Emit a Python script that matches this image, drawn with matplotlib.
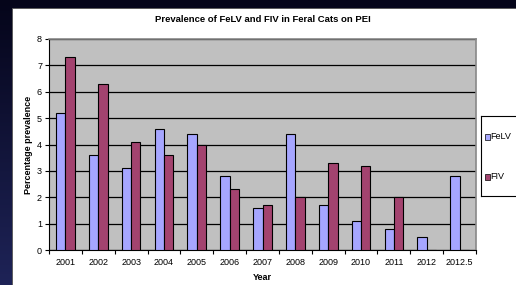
import numpy as np
import matplotlib.pyplot as plt
from matplotlib.patches import Rectangle

years = ['2001', '2002', '2003', '2004', '2005', '2006', '2007',
         '2008', '2009', '2010', '2011', '2012', '2012.5']
felv = [5.2, 3.6, 3.1, 4.6, 4.4, 2.8, 1.6, 4.4, 1.7, 1.1, 0.8, 0.5, 2.8]
fiv = [7.3, 6.3, 4.1, 3.6, 4.0, 2.3, 1.7, 2.0, 3.3, 3.2, 2.0, 0, 0]

plt.rcParams['font.family'] = ['Liberation Sans', 'DejaVu Sans']

W, H = 516, 285
fig = plt.figure(figsize=(W / 100, H / 100), dpi=100)

# dark slide background with gradient
bg = fig.add_axes([0, 0, 1, 1])
grad = np.linspace(0, 1, 100).reshape(-1, 1)
bg.imshow(grad, aspect='auto', extent=[0, 1, 0, 1], origin='upper',
          cmap=plt.matplotlib.colors.LinearSegmentedColormap.from_list(
              'bgc', ['#05051a', '#1e2357']))
bg.add_patch(Rectangle((12 / W, 0), 1 - 12 / W, 1 - 8 / H,
                       transform=bg.transAxes, facecolor='white',
                       edgecolor='#555555', lw=0.6))
bg.set_xlim(0, 1)
bg.set_ylim(0, 1)
bg.axis('off')

# plot area
left, right, top, bottom = 49, 476, 39, 250
ax = fig.add_axes([left / W, 1 - bottom / H, (right - left) / W, (bottom - top) / H])
ax.set_facecolor('#c0c0c0')

x = np.arange(len(years))
bw = 0.57 / 2
ax.bar(x - bw / 2, felv, bw, color='#a6a6ff', edgecolor='black', lw=0.8, zorder=3, label='FeLV')
ax.bar(x + bw / 2, fiv, bw, color='#a3436f', edgecolor='black', lw=0.8, zorder=3, label='FIV')

ax.set_xlim(-0.5, len(years) - 0.5)
ax.set_ylim(0, 8)
ax.set_yticks(range(9))
ax.yaxis.grid(True, color='black', lw=0.9, zorder=1)
ax.set_axisbelow(True)

ax.set_xticks(x)
ax.set_xticklabels(years, fontsize=6.5)
ax.set_xticks(np.arange(-0.5, len(years), 1), minor=True)
ax.tick_params(axis='x', which='major', length=0, pad=6)
ax.tick_params(axis='x', which='minor', length=3, width=0.8, direction='out')
ax.tick_params(axis='y', labelsize=6.5, length=3, width=0.8, pad=2)

for s in ['top', 'right']:
    ax.spines[s].set_color('#888888')
    ax.spines[s].set_linewidth(1.2)
ax.spines['left'].set_linewidth(0.8)
ax.spines['bottom'].set_linewidth(0.8)

ax.set_xlabel('Year', fontsize=6.5, fontweight='bold', labelpad=4)
ax.set_ylabel('Percentage prevalence', fontsize=6.5, fontweight='bold', labelpad=3)
ax.set_title('Prevalence of FeLV and FIV in Feral Cats on PEI', fontsize=6.8,
             fontweight='bold', pad=12)

# legend box
leg_ax = fig.add_axes([481 / W, 1 - 196 / H, 60 / W, 80 / H])
leg_ax.set_xlim(0, 1)
leg_ax.set_ylim(0, 1)
leg_ax.set_xticks([])
leg_ax.set_yticks([])
for s in leg_ax.spines.values():
    s.set_linewidth(0.8)
for yy, lab, col in [(0.74, 'FeLV', '#a6a6ff'), (0.24, 'FIV', '#a3436f')]:
    leg_ax.add_patch(Rectangle((0.07, yy - 0.04), 0.08, 0.08, facecolor=col,
                               edgecolor='black', lw=0.5))
    leg_ax.text(0.16, yy, lab, fontsize=6.5, va='center', ha='left')

fig.savefig('out.png', dpi=100)
